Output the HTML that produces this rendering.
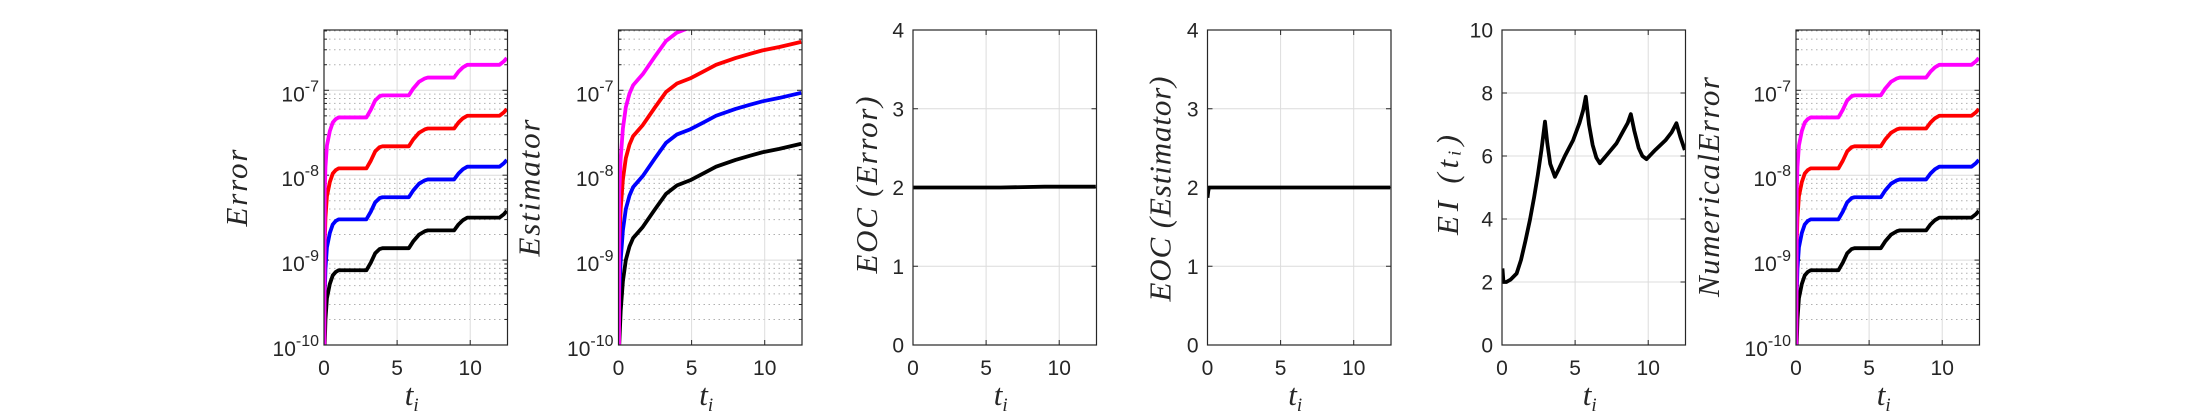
<!DOCTYPE html>
<html><head><meta charset="utf-8">
<style>
html,body{margin:0;padding:0;background:#fff;}
svg{display:block;}
.tk{font-family:"Liberation Sans",sans-serif;font-size:21px;fill:#262626;}
.lab{font-family:"Liberation Serif",serif;font-style:italic;font-size:31px;fill:#262626;}
</style></head>
<body>
<svg id="fig" width="2187" height="417" viewBox="0 0 2187 417" xmlns="http://www.w3.org/2000/svg"></svg>
<script>
// ---- data ----
const xTicks = [0, 5, 10];
const logTicks = [-10, -9, -8, -7];
const linTicks4 = [0, 1, 2, 3, 4];
const linTicks10 = [0, 2, 4, 6, 8, 10];

const errT = [0.02,0.05,0.1,0.2,0.4,0.6,0.8,1.0,2.9,3.2,3.5,3.8,4.0,5.8,6.1,6.5,6.9,7.1,8.9,9.2,9.5,9.8,10.0,12.0,12.3,12.5];
const errBlack   = [-10.3,-10.0,-9.7,-9.45,-9.28,-9.18,-9.14,-9.12,-9.12,-9.03,-8.92,-8.87,-8.86,-8.86,-8.78,-8.70,-8.66,-8.65,-8.65,-8.58,-8.53,-8.50,-8.50,-8.50,-8.46,-8.42];
const errBlue    = [-10.3,-9.4,-9.1,-8.85,-8.68,-8.58,-8.54,-8.52,-8.52,-8.43,-8.32,-8.27,-8.26,-8.26,-8.18,-8.10,-8.06,-8.05,-8.05,-7.98,-7.93,-7.90,-7.90,-7.90,-7.86,-7.82];
const errRed     = [-10.3,-8.8,-8.5,-8.25,-8.08,-7.98,-7.94,-7.92,-7.92,-7.83,-7.72,-7.67,-7.66,-7.66,-7.58,-7.50,-7.46,-7.45,-7.45,-7.38,-7.33,-7.30,-7.30,-7.30,-7.26,-7.22];
const errMagenta = [-10.3,-8.2,-7.9,-7.65,-7.48,-7.38,-7.34,-7.32,-7.32,-7.23,-7.12,-7.07,-7.06,-7.06,-6.98,-6.90,-6.86,-6.85,-6.85,-6.78,-6.73,-6.70,-6.70,-6.70,-6.66,-6.62];

const estT = [0.03,0.05,0.15,0.3,0.5,0.75,1.0,1.66,2.5,3.25,4.0,4.9,5.8,6.67,8.0,9.0,9.85,11.0,12.5];
const estBlack   = [-10.3,-10.0,-9.6,-9.25,-9.0,-8.84,-8.74,-8.61,-8.40,-8.22,-8.12,-8.06,-7.98,-7.90,-7.82,-7.77,-7.73,-7.69,-7.63];
const estBlue    = [-10.3,-9.4,-9.0,-8.65,-8.4,-8.24,-8.14,-8.01,-7.80,-7.62,-7.52,-7.46,-7.38,-7.30,-7.22,-7.17,-7.13,-7.09,-7.03];
const estRed     = [-10.3,-8.8,-8.4,-8.05,-7.8,-7.64,-7.54,-7.41,-7.20,-7.02,-6.92,-6.86,-6.78,-6.70,-6.62,-6.57,-6.53,-6.49,-6.43];
const estMagenta = [-10.3,-8.2,-7.8,-7.45,-7.2,-7.04,-6.94,-6.81,-6.60,-6.42,-6.32,-6.26,-6.18,-6.10,-6.02,-5.97,-5.93,-5.89,-5.83];

const eocT = [0, 3, 6, 9, 12.5];
const eocErr = [2.0, 2.0, 2.0, 2.01, 2.01];
const eocEstT = [0, 0.05, 0.1, 3, 6, 9, 12.5];
const eocEst = [1.87, 1.95, 2.0, 2.0, 2.0, 2.0, 2.0];

const eiT = [0.03,0.1,0.3,0.6,1.0,1.3,1.6,1.91,2.2,2.45,2.7,2.94,3.1,3.3,3.62,3.9,4.3,4.87,5.3,5.55,5.73,5.95,6.2,6.45,6.69,7.2,7.83,8.3,8.6,8.81,9.05,9.35,9.6,9.88,10.5,11.2,11.6,11.93,12.2,12.5];
const eiV = [2.43,2.0,2.0,2.08,2.27,2.7,3.3,3.97,4.7,5.4,6.2,7.09,6.4,5.75,5.34,5.6,6.0,6.51,7.05,7.45,7.88,7.0,6.35,5.95,5.77,6.05,6.40,6.8,7.05,7.33,6.8,6.25,6.0,5.90,6.2,6.51,6.75,7.04,6.6,6.19];

// ---- layout ----
const svg = document.getElementById('fig');
const NS = 'http://www.w3.org/2000/svg';
const TOP = 30, BOT = 345, W = 183.5, XMAX = 12.55;
function mk(tag, attrs, parent){ const e=document.createElementNS(NS,tag); for(const k in attrs) e.setAttribute(k,attrs[k]); (parent||svg).appendChild(e); return e; }

function panel(idx, left, cfg){
  const g = mk('g', {});
  
  
  const xs = t => left + t / XMAX * W;
  const ys = v => BOT - (v - cfg.ymin) / (cfg.ymax - cfg.ymin) * (BOT - TOP);
  const clipId = 'clip' + idx;
  const cp = mk('clipPath', {id: clipId}, g);
  mk('rect', {x:left, y:TOP, width:W, height:BOT-TOP}, cp);
  if (cfg.log) {
    for (let d = cfg.ymin; d < cfg.ymax; d++) for (let m = 2; m <= 9; m++) {
      const v = d + Math.log10(m); if (v > cfg.ymax) continue;
      const y = ys(v);
      const ln = mk('line', {x1:left, x2:left+W, y1:y, y2:y, stroke:'#b0b0b0', 'stroke-width':1, 'stroke-dasharray':'1.5 3.5'}, g);
      
      
      mk('line', {x1:left, x2:left+3, y1:y, y2:y, stroke:'#262626', 'stroke-width':1}, g);
      mk('line', {x1:left+W-3, x2:left+W, y1:y, y2:y, stroke:'#262626', 'stroke-width':1}, g);
    }
  }
  cfg.yticks.forEach(v => {
    const y = ys(v);
    const ln = mk('line', {x1:left, x2:left+W, y1:y, y2:y, stroke:'#dcdcdc', 'stroke-width':1}, g);
    
    
    mk('line', {x1:left, x2:left+5, y1:y, y2:y, stroke:'#262626', 'stroke-width':1}, g);
    mk('line', {x1:left+W-5, x2:left+W, y1:y, y2:y, stroke:'#262626', 'stroke-width':1}, g);
    const t = mk('text', {x:left-9, y:y+7.5, 'text-anchor':'end', class:'tk'}, g);
    
    
    if (cfg.log) {
      t.setAttribute('x', left - 5);
      t.setAttribute('y', y + 11);
      const a = mk('tspan', {}, t); a.textContent = '10';
      const b = mk('tspan', {dy:'-10', 'font-size':'16'}, t); b.textContent = String(v);
    } else t.textContent = String(v);
  });
  xTicks.forEach(v => {
    const x = xs(v);
    const ln = mk('line', {x1:x, x2:x, y1:TOP, y2:BOT, stroke:'#dcdcdc', 'stroke-width':1}, g);
    
    
    mk('line', {x1:x, x2:x, y1:BOT-5, y2:BOT, stroke:'#262626', 'stroke-width':1}, g);
    mk('line', {x1:x, x2:x, y1:TOP, y2:TOP+5, stroke:'#262626', 'stroke-width':1}, g);
    const t = mk('text', {x:x, y:375, 'text-anchor':'middle', class:'tk'}, g);
    
    
    t.textContent = String(v);
  });
  cfg.series.forEach(s => {
    let d = '';
    s.t.forEach((t, i) => { d += (i ? 'L' : 'M') + xs(t).toFixed(2) + ' ' + ys(s.v[i]).toFixed(2); });
    const p = mk('path', {d:d, fill:'none', stroke:s.color, 'stroke-width':3.8, 'stroke-linejoin':'round', 'clip-path':'url(#'+clipId+')'}, g);
    
    
  });
  const bx = mk('rect', {x:left, y:TOP, width:W, height:BOT-TOP, fill:'none', stroke:'#262626', 'stroke-width':1.2}, g);
  
  
  const xl = mk('text', {x:left+W/2 - 4, y:405, 'text-anchor':'middle', class:'lab'}, g);
  
  
  const a = mk('tspan', {}, xl); a.textContent = 't';
  const b = mk('tspan', {dy:'6', 'font-size':'19'}, xl); b.textContent = 'i';
  const lx = left - cfg.yoff, ly = cfg.ly || 188;
  const yl = mk('text', {x:lx, y:ly, 'text-anchor':'middle', class:'lab', textLength:cfg.ylen, lengthAdjust:'spacing', transform:'rotate(-90 '+lx+' '+ly+')', 'dominant-baseline':'middle'}, g);
  
  
  yl.textContent = cfg.ylabel;
}

const lefts = [324, 618.5, 913, 1207.5, 1502, 1796];
const errSeries = [
  {name:'error-black', color:'#000', t:errT, v:errBlack},
  {name:'error-blue', color:'#0000ff', t:errT, v:errBlue},
  {name:'error-red', color:'#ff0000', t:errT, v:errRed},
  {name:'error-magenta', color:'#ff00ff', t:errT, v:errMagenta}];
panel(0, lefts[0], {name:'error-panel', log:true, ymin:-10, ymax:-6.29, yticks:logTicks, ylabel:'Error', yoff:84, ylen:77, ly:188, series:errSeries});
panel(1, lefts[1], {name:'estimator-panel', log:true, ymin:-10, ymax:-6.29, yticks:logTicks, ylabel:'Estimator', yoff:86, ylen:137, ly:188, series:[
  {name:'estimator-black', color:'#000', t:estT, v:estBlack},
  {name:'estimator-blue', color:'#0000ff', t:estT, v:estBlue},
  {name:'estimator-red', color:'#ff0000', t:estT, v:estRed},
  {name:'estimator-magenta', color:'#ff00ff', t:estT, v:estMagenta}]});
panel(2, lefts[2], {name:'eoc-error-panel', log:false, ymin:0, ymax:4, yticks:linTicks4, ylabel:'EOC (Error)', yoff:43, ylen:177, ly:185, series:[
  {name:'eoc-error-line', color:'#000', t:eocT, v:eocErr}]});
panel(3, lefts[3], {name:'eoc-estimator-panel', log:false, ymin:0, ymax:4, yticks:linTicks4, ylabel:'EOC (Estimator)', yoff:44, ylen:225, ly:189, series:[
  {name:'eoc-estimator-line', color:'#000', t:eocEstT, v:eocEst}]});
panel(4, lefts[4], {name:'ei-panel', log:false, ymin:0, ymax:10, yticks:linTicks10, ylabel:'EI (t\u1D62)', yoff:51, ylen:100, ly:185, series:[
  {name:'ei-line', color:'#000', t:eiT, v:eiV}]});
panel(5, lefts[5], {name:'numerical-error-panel', log:true, ymin:-10, ymax:-6.29, yticks:logTicks, ylabel:'NumericalError', yoff:84, ylen:220, ly:187, series:errSeries.map(s => ({name:'numerical-'+s.name, color:s.color, t:s.t, v:s.v}))});
</script>
</body></html>
